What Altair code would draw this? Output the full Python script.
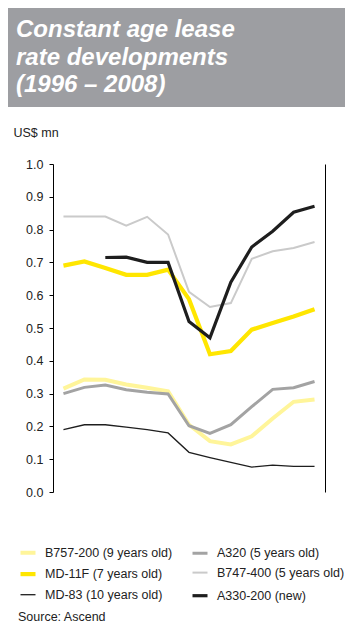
import altair as alt
import pandas as pd

# ---------------- data ----------------
YEARS = list(range(1996, 2009))
SERIES = [
    "B757-200 (9 years old)",
    "A320 (5 years old)",
    "MD-11F (7 years old)",
    "B747-400 (5 years old)",
    "MD-83 (10 years old)",
    "A330-200 (new)",
]
B757 = [0.315, 0.343, 0.342, 0.328, 0.318, 0.307, 0.205, 0.155, 0.145, 0.170, 0.224, 0.275, 0.282]
A320 = [0.300, 0.319, 0.326, 0.312, 0.304, 0.299, 0.202, 0.179, 0.205, 0.260, 0.313, 0.318, 0.337]
MD11F = [0.690, 0.703, 0.683, 0.662, 0.662, 0.678, 0.588, 0.420, 0.430, 0.495, 0.515, 0.535, 0.557]
B747 = [0.840, 0.840, 0.840, 0.812, 0.839, 0.785, 0.610, 0.564, 0.576, 0.711, 0.734, 0.744, 0.762]
MD83 = [0.190, 0.205, 0.205, 0.198, 0.190, 0.180, 0.121, 0.105, 0.090, 0.076, 0.082, 0.078, 0.078]
A330 = [None, None, 0.715, 0.716, 0.700, 0.700, 0.520, 0.470, 0.640, 0.747, 0.795, 0.853, 0.871]

COLORS = ["#fff59a", "#a3a3a3", "#ffe600", "#cacaca", "#1e1e1e", "#1e1e1e"]
WIDTHS = [4, 3, 4.2, 2, 1.3, 3.2]

TITLE_LINES = ["Constant age lease", "rate developments", "(1996 \u2013 2008)"]
Y_TITLE = "US$ mn"
SOURCE = "Source: Ascend"

# drawing order (later = on top)
DRAW = [
    ("B757-200 (9 years old)", B757),
    ("B747-400 (5 years old)", B747),
    ("A320 (5 years old)", A320),
    ("MD-11F (7 years old)", MD11F),
    ("MD-83 (10 years old)", MD83),
    ("A330-200 (new)", A330),
]
rows = []
for k, (name, vals) in enumerate(DRAW):
    for yr, v in zip(YEARS, vals):
        if v is not None:
            rows.append({"series": name, "year": yr, "value": v, "k": k})
df = pd.DataFrame(rows)

NARROW = "Liberation Sans Narrow, Liberation Sans, Arial, sans-serif"
TXT = "#222222"

x_edges = [y - 0.5 for y in YEARS] + [YEARS[-1] + 0.5]
xscale = alt.Scale(domain=[YEARS[0] - 0.5, YEARS[-1] + 0.5], nice=False, zero=False)
yscale = alt.Scale(domain=[0, 1], nice=False)

x_enc = alt.X(
    "year:Q",
    scale=xscale,
    axis=alt.Axis(
        values=x_edges,
        labelExpr="(datum.value - 0.5) % 2 == 0 ? toString(datum.value - 0.5) : ''",
        labelAngle=315,
        labelAlign="right",
        labelBaseline="middle",
        labelPadding=2,
        labelFont=NARROW,
        labelFontSize=12.5,
        labelColor=TXT,
        tickSize=4,
        tickColor="#000000",
        domainColor="#000000",
        grid=False,
        title=None,
        labelOverlap=False,
    ),
)

def make_legend():
    return alt.Legend(
        orient="none",
        legendX=-35,
        legendY=379,
        columns=2,
        direction="horizontal",
        columnPadding=13,
        rowPadding=3.1,
        symbolType="stroke",
        symbolSize=225,
        labelOffset=7,
        labelFont=NARROW,
        labelFontSize=12.5,
        labelColor=TXT,
        title=None,
        padding=0,
    )

color_enc = alt.Color(
    "series:N",
    scale=alt.Scale(domain=SERIES, range=COLORS),
    legend=make_legend(),
)
width_enc = alt.StrokeWidth(
    "series:N",
    scale=alt.Scale(type="ordinal", domain=SERIES, range=WIDTHS),
    legend=make_legend(),
)

lines = alt.Chart(df).mark_line(strokeJoin="miter", strokeCap="butt").encode(
    x=x_enc,
    y=alt.Y(
        "value:Q",
        scale=yscale,
        axis=alt.Axis(
            values=[i / 10 for i in range(11)],
            format=".1f",
            labelFont=NARROW,
            labelFontSize=12.5,
            labelColor=TXT,
            labelPadding=6,
            tickSize=4,
            tickColor="#000000",
            domainColor="#000000",
            grid=False,
            title=Y_TITLE,
            titleAngle=0,
            titleAlign="left",
            titleBaseline="alphabetic",
            titleX=-40,
            titleY=-28,
            titleFont=NARROW,
            titleFontSize=12.5,
            titleFontWeight="normal",
            titleColor=TXT,
        ),
    ),
    color=color_enc,
    strokeWidth=width_enc,
    order=alt.Order("year:Q"),
    detail="k:N",
)

right_axis = alt.Chart(df).mark_line(opacity=0).encode(
    x=alt.X("year:Q", scale=xscale, axis=None),
    y=alt.Y(
        "value:Q",
        scale=yscale,
        axis=alt.Axis(orient="right", labels=False, ticks=False, grid=False,
                      domainColor="#000000", title=None),
    ),
    detail="series:N",
)

one = pd.DataFrame({"a": [0]})
banner = alt.Chart(one).mark_rect(color="#9d9ea2").encode(
    x=alt.value(-45), x2=alt.value(292), y=alt.value(-156), y2=alt.value(-57)
)
title = alt.Chart(one).mark_text(
    text=TITLE_LINES,
    align="left",
    baseline="alphabetic",
    font="Liberation Sans",
    fontSize=24,
    fontWeight="bold",
    fontStyle="italic",
    color="#ffffff",
    lineHeight=27.5,
).encode(x=alt.value(-37), y=alt.value(-127))
source = alt.Chart(one).mark_text(
    text=SOURCE, align="left", baseline="alphabetic", font=NARROW, fontSize=12.5, color=TXT
).encode(x=alt.value(-35), y=alt.value(457))

chart = (
    alt.layer(banner, title, right_axis, lines, source)
    .resolve_scale(y="shared", x="shared")
    .resolve_axis(y="independent")
    .properties(
        width=272,
        height=328,
        autosize=alt.AutoSizeParams(type="none"),
        padding={"left": 45, "top": 156, "right": 20, "bottom": 131},
        background="#ffffff",
    )
    .configure_view(stroke=None)
)

chart.save("out.html", embed_options={"renderer": "svg", "actions": False})
